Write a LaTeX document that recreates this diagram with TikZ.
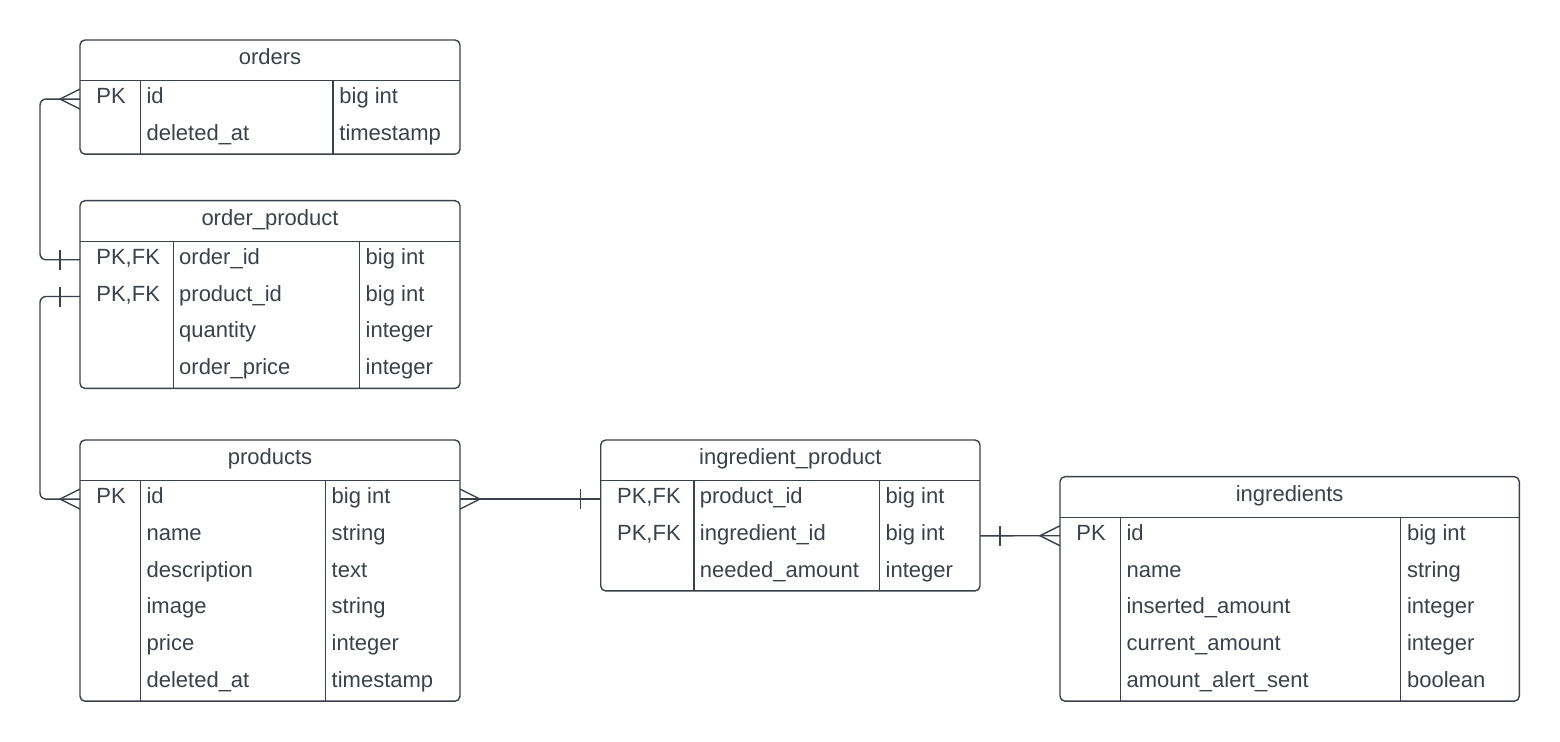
\documentclass[tikz,border=0pt]{standalone}
\usepackage{fontspec}
\setmainfont{Liberation Sans}

\definecolor{ink}{HTML}{3A414A}

% one table: name, x, y, width, key divider, type divider, title, rows
\newcommand{\erdtable}[8]{%
  \foreach \pk/\fld/\typ [count=\n] in {#8} {\xdef\erdrows{\n}}
  \node[tbl, minimum width=#4*0.5pt, minimum height=(40.7+36.75*\erdrows)*0.5pt] (#1) at (#2,#3) {};
  \draw[line] (#2,#3+40.7) -- (#2+#4,#3+40.7);
  \draw[line] (#2+#5,#3+40.7) -- (#2+#5,#3+40.7+36.75*\erdrows);
  \draw[line] (#2+#6,#3+40.7) -- (#2+#6,#3+40.7+36.75*\erdrows);
  \node[cell, anchor=center] (#1-title) at (#2+#4/2,#3+20.35) {#7};
  \foreach \pk/\fld/\typ [count=\i] in {#8} {
    \node[cell] (#1-k\i) at (#2+16,#3+22.325+36.75*\i) {\pk};
    \node[cell] (#1-f\i) at (#2+#5+5.5,#3+22.325+36.75*\i) {\fld};
    \node[cell] (#1-t\i) at (#2+#6+6,#3+22.325+36.75*\i) {\typ};
  }
}
\newcommand{\crowfoot}[2]{\draw[line] ([shift={(0,-10)}]#1) -- ([shift={(#2*20,0)}]#1) -- ([shift={(0,10)}]#1);}
\newcommand{\onebar}[2]{\draw[line] ([shift={(#2*20,-10)}]#1) -- ([shift={(#2*20,10)}]#1);}

\begin{document}
\begin{tikzpicture}[
        x=0.5pt, y=-0.5pt,
        line/.style={draw=ink, line width=0.7pt},
        tbl/.style={line, rounded corners=2.5pt, anchor=north west, inner sep=0pt, outer sep=0pt},
        cell/.style={anchor=west, inner sep=0pt, text=ink, font=\fontsize{11}{13}\selectfont,
                     text height=7pt, text depth=2.5pt}
      ]

      \useasboundingbox (0,0) rectangle (1560,742);

      \erdtable{orders}{80}{40}{380}{60.7}{253}{orders}
        {PK/id/big int, /deleted\_at/timestamp}
      \erdtable{orderproduct}{80}{200.7}{380}{93.3}{279.3}{order\_product}
        {{PK,FK}/order\_id/big int, {PK,FK}/product\_id/big int, /quantity/integer, /order\_price/integer}
      \erdtable{products}{80}{440}{380}{60.7}{245.3}{products}
        {PK/id/big int, /name/string, /description/text, /image/string, /price/integer, /deleted\_at/timestamp}
      \erdtable{ingproduct}{600.7}{440}{379.3}{93.3}{278.6}{ingredient\_product}
        {{PK,FK}/product\_id/big int, {PK,FK}/ingredient\_id/big int, /needed\_amount/integer}
      \erdtable{ingredients}{1060}{476.7}{459.3}{60.7}{340.7}{ingredients}
        {PK/id/big int, /name/string, /inserted\_amount/integer, /current\_amount/integer, /amount\_alert\_sent/boolean}

      \coordinate (ord-id) at (orders.west |- orders-k1);
      \coordinate (op-ord) at (orderproduct.west |- orderproduct-k1);
      \coordinate (op-prod) at (orderproduct.west |- orderproduct-k2);
      \coordinate (prod-id) at (products.west |- products-k1);
      \coordinate (prod-out) at (products.east |- products-k1);
      \coordinate (ip-prod) at (ingproduct.west |- ingproduct-k1);
      \coordinate (ip-ing) at (ingproduct.east |- ingproduct-k2);
      \coordinate (ing-id) at (ingredients.west |- ingredients-k1);

      \draw[line, rounded corners=3pt] (ord-id) -- ++(-40,0) |- (op-ord);
      \draw[line, rounded corners=3pt] (op-prod) -- ++(-40,0) |- (prod-id);
      \draw[line] (prod-out) -- (ip-prod);
      \draw[line] (ip-ing) -- (ing-id);

      \crowfoot{ord-id}{-1}
      \onebar{op-ord}{-1}
      \onebar{op-prod}{-1}
      \crowfoot{prod-id}{-1}
      \crowfoot{prod-out}{1}
      \onebar{ip-prod}{-1}
      \onebar{ip-ing}{1}
      \crowfoot{ing-id}{-1}

    \end{tikzpicture}
\end{document}
